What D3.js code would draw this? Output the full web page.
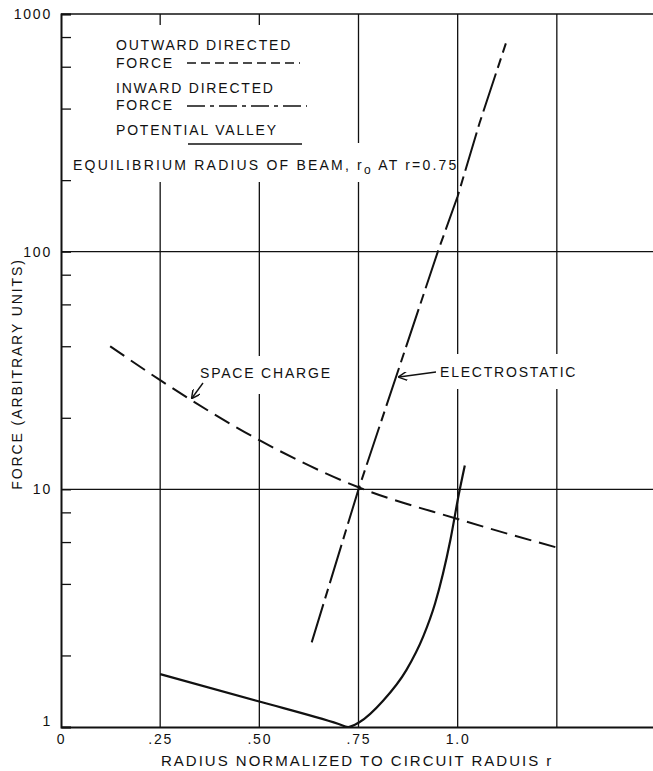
<!DOCTYPE html>
<html>
<head>
<meta charset="utf-8">
<script src="https://cdn.jsdelivr.net/npm/d3@7"></script>
<style>
  html, body { margin: 0; padding: 0; background: #fff; }
  svg { display: block; }
  text { font-family: "Liberation Sans", Arial, sans-serif; fill: #111; letter-spacing: 1.8px; }
</style>
</head>
<body>
<svg id="chart" width="653" height="771"></svg>
<script>
// ---- data ----
const xTicks = [0, 0.25, 0.5, 0.75, 1.0];
const xTickLabels = ["0", ".25", ".50", ".75", "1.0"];
const xGrid = [0.25, 0.5, 0.75, 1.0, 1.25];
const yMajor = [1, 10, 100, 1000];
const yMajorLabels = ["1", "10", "100", "1000"];
const yMinor = [2, 4, 6, 8, 20, 40, 60, 80, 200, 400, 600, 800];
const yGrid = [10, 100];

// outward directed force: space charge (dashed)
const spaceChargeR = [0.124, 0.25, 0.5, 0.75, 1.0, 1.248];
const spaceChargeF = [40, 28.8, 16.1, 10.2, 7.5, 5.7];

// inward directed force: electrostatic (dash-dot)
const electroR = [0.632, 0.75, 0.95, 1.0, 1.055, 1.1215];
const electroF = [2.27, 10, 100, 171, 347, 752];

// potential valley (solid)
const valleyR = [0.25, 0.5, 0.70, 0.724, 0.753, 0.812, 0.871, 0.913, 0.943, 0.982, 1.003, 1.018];
const valleyF = [1.67, 1.28, 1.03, 1.0, 1.05, 1.29, 1.74, 2.40, 3.31, 6.17, 9.55, 12.6];

// ---- chart ----
const svg = d3.select("#chart");
const x = d3.scaleLinear().domain([0, 1.5]).range([61, 656]);
const y = d3.scaleLog().domain([1, 1000]).range([727, 14]);

const g = svg.append("g");

// grid
g.selectAll("line.vg").data(xGrid).join("line")
  .attr("x1", d => x(d)).attr("x2", d => x(d))
  .attr("y1", y(1)).attr("y2", y(1000))
  .attr("stroke", "#111").attr("stroke-width", 1.3);
g.selectAll("line.hg").data(yGrid).join("line")
  .attr("x1", x(0)).attr("x2", x(1.5))
  .attr("y1", d => y(d)).attr("y2", d => y(d))
  .attr("stroke", "#111").attr("stroke-width", 1.3);
// top border
g.append("line").attr("x1", x(0)).attr("x2", x(1.5)).attr("y1", y(1000)).attr("y2", y(1000))
  .attr("stroke", "#111").attr("stroke-width", 1.6);

// white masks behind legend and labels
g.append("rect").attr("x", 68).attr("y", 25).attr("width", 262).attr("height", 157).attr("fill", "#fff");
g.append("rect").attr("x", 68).attr("y", 143).attr("width", 386).attr("height", 39).attr("fill", "#fff");
g.append("rect").attr("x", 197).attr("y", 356).attr("width", 142).attr("height", 38).attr("fill", "#fff");
g.append("rect").attr("x", 438).attr("y", 354).attr("width", 146).attr("height", 35).attr("fill", "#fff");

// axes
const yAxis = d3.axisLeft(y)
  .tickValues(yMajor.concat(yMinor))
  .tickSize(-10).tickPadding(9)
  .tickFormat(d => { const i = yMajor.indexOf(d); return i >= 0 ? yMajorLabels[i] : ""; });
const ya = g.append("g").attr("transform", `translate(${x(0)},0)`).call(yAxis);
ya.select(".domain").attr("stroke", "#111").attr("stroke-width", 2);
ya.selectAll(".tick line").attr("stroke", "#111").attr("stroke-width", 1.3);
ya.selectAll(".tick text").attr("font-size", 14).attr("font-family", "Liberation Sans, Arial, sans-serif").attr("fill", "#111");
ya.selectAll(".tick").filter(d => d === 1).select("text").attr("y", -6);

const xAxis = d3.axisBottom(x).tickValues(xTicks).tickSize(0).tickPadding(7)
  .tickFormat((d, i) => xTickLabels[i]);
const xa = g.append("g").attr("transform", `translate(0,${y(1)})`).call(xAxis);
xa.select(".domain").attr("stroke", "#111").attr("stroke-width", 2);
xa.selectAll(".tick text").attr("font-size", 14).attr("font-family", "Liberation Sans, Arial, sans-serif").attr("fill", "#111");

// axis titles
g.append("text").attr("x", 161).attr("y", 766).attr("font-size", 15).style("letter-spacing", "2px")
  .text("RADIUS NORMALIZED TO CIRCUIT RADUIS r");
g.append("text").attr("transform", "translate(22,374) rotate(-90)")
  .attr("text-anchor", "middle").attr("font-size", 14).style("letter-spacing", "1.9px")
  .text("FORCE (ARBITRARY UNITS)");

// curves
g.append("path")
  .datum(spaceChargeR.map((r, i) => [r, spaceChargeF[i]]))
  .attr("d", d3.line().x(d => x(d[0])).y(d => y(d[1])).curve(d3.curveMonotoneX))
  .attr("fill", "none").attr("stroke", "#111").attr("stroke-width", 2)
  .attr("stroke-dasharray", "17,8");
g.append("path")
  .datum(electroR.map((r, i) => [r, electroF[i]]))
  .attr("d", d3.line().x(d => x(d[0])).y(d => y(d[1])))
  .attr("fill", "none").attr("stroke", "#111").attr("stroke-width", 2)
  .attr("stroke-dasharray", "40,6,10,6");
g.append("path")
  .datum(valleyR.map((r, i) => [r, valleyF[i]]))
  .attr("d", d3.line().x(d => x(d[0])).y(d => y(d[1])).curve(d3.curveMonotoneX))
  .attr("fill", "none").attr("stroke", "#111").attr("stroke-width", 2.2);

// legend
const lg = g.append("g").attr("font-size", 14);
lg.append("text").attr("x", 116).attr("y", 50).text("OUTWARD DIRECTED");
lg.append("text").attr("x", 116).attr("y", 68).text("FORCE");
lg.append("line").attr("x1", 187).attr("x2", 300).attr("y1", 63).attr("y2", 63)
  .attr("stroke", "#111").attr("stroke-width", 1.5).attr("stroke-dasharray", "9,5");
lg.append("text").attr("x", 116).attr("y", 93).text("INWARD DIRECTED");
lg.append("text").attr("x", 116).attr("y", 110).text("FORCE");
lg.append("line").attr("x1", 187).attr("x2", 307).attr("y1", 106).attr("y2", 106)
  .attr("stroke", "#111").attr("stroke-width", 1.5).attr("stroke-dasharray", "18,5,4,5");
lg.append("text").attr("x", 116).attr("y", 135).text("POTENTIAL VALLEY");
lg.append("line").attr("x1", 188).attr("x2", 302).attr("y1", 144).attr("y2", 144)
  .attr("stroke", "#111").attr("stroke-width", 1.5);
const eq = lg.append("text").attr("x", 73).attr("y", 170).style("letter-spacing", "2.2px");
eq.append("tspan").text("EQUILIBRIUM RADIUS OF BEAM, r");
eq.append("tspan").attr("dy", 4).attr("font-size", 12).text("o");
eq.append("tspan").attr("dy", -4).text(" AT r=0.75");

// annotations with arrows
const defs = svg.append("defs");
defs.append("marker").attr("id", "arr").attr("viewBox", "0 0 10 10")
  .attr("refX", 9).attr("refY", 5).attr("markerWidth", 9).attr("markerHeight", 9)
  .attr("markerUnits", "userSpaceOnUse").attr("orient", "auto")
  .append("path").attr("d", "M0,0 L10,5 L0,10").attr("fill", "none")
  .attr("stroke", "#111").attr("stroke-width", 1.6);

g.append("text").attr("x", 200).attr("y", 378).attr("font-size", 14).text("SPACE CHARGE");
g.append("line").attr("x1", 203).attr("y1", 383).attr("x2", 192).attr("y2", 398)
  .attr("stroke", "#111").attr("stroke-width", 1.4).attr("marker-end", "url(#arr)");
g.append("text").attr("x", 440).attr("y", 377).attr("font-size", 14).text("ELECTROSTATIC");
g.append("line").attr("x1", 436).attr("y1", 372).attr("x2", 399).attr("y2", 377)
  .attr("stroke", "#111").attr("stroke-width", 1.4).attr("marker-end", "url(#arr)");
</script>
</body>
</html>
